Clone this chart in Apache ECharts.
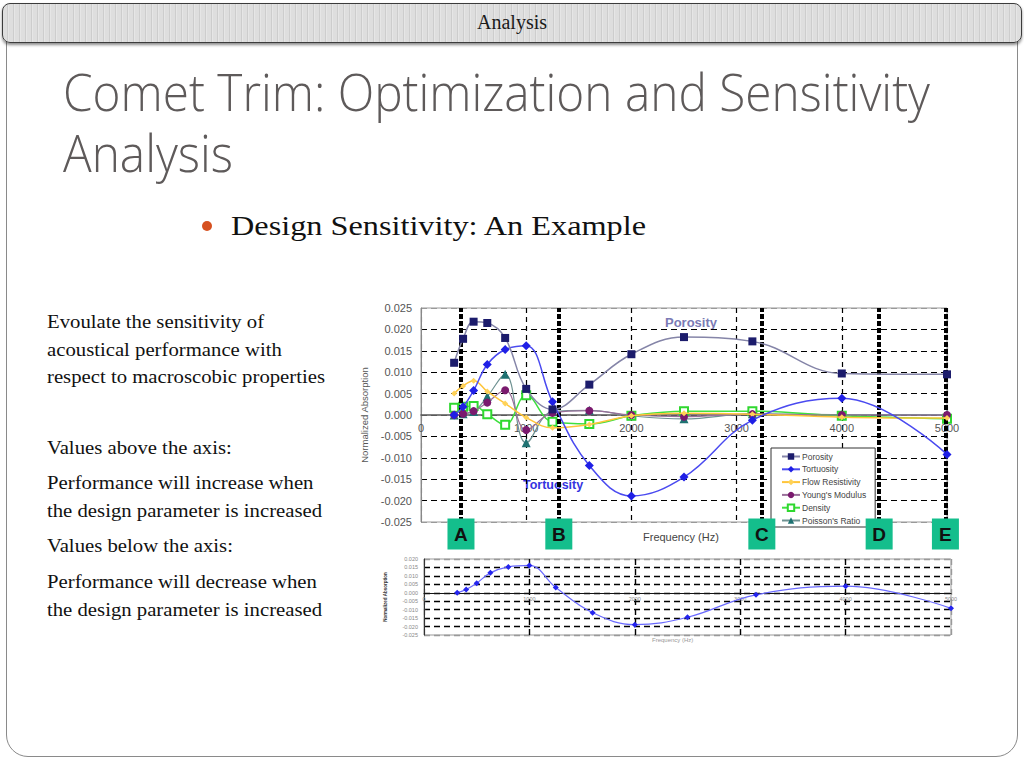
<!DOCTYPE html>
<html>
<head>
<meta charset="utf-8">
<script src="https://cdn.jsdelivr.net/npm/echarts/dist/echarts.min.js"></script>
<style>
html,body{margin:0;padding:0;width:1024px;height:768px;overflow:hidden;background:#fff;}
.abs{position:absolute;white-space:nowrap;}
.frame{position:absolute;left:6px;top:20px;width:1012px;height:737px;border:1px solid #8a8a8a;border-radius:22px;box-sizing:border-box;}
.banner{position:absolute;left:2px;top:3px;width:1020px;height:40px;border:1.5px solid #3c3c3c;border-radius:8px;box-sizing:border-box;
 background:repeating-linear-gradient(90deg,#dedede 0px,#dedede 4px,#cdcdcd 4px,#cdcdcd 5px,#e6e6e6 5px,#e6e6e6 6px);
 box-shadow:0 2px 3px rgba(0,0,0,0.45);}
.serif{font-family:"Liberation Serif","DejaVu Serif",serif;color:#111;line-height:1;}
.title{position:absolute;white-space:pre;font-family:"Open Sans","Lato",sans-serif;font-weight:300;color:#5e5a5a;font-size:52px;line-height:61px;transform-origin:0 0;}
#chart{position:absolute;left:0;top:0;width:1024px;height:768px;}
.dot{position:absolute;left:202px;top:221px;width:10px;height:10px;border-radius:50%;background:#d6501f;}
</style>
</head>
<body>
<div class="frame"></div>
<div class="banner"></div>
<div id="hdr" class="abs serif" style="top:12px;font-size:20px;color:#1a1a1a;">Analysis</div>
<div id="title" class="title" style="left:63px;top:59.5px;"></div>
<div class="dot"></div>
<div id="bul" class="abs serif" style="left:231px;top:212px;font-size:28px;">Design Sensitivity: An Example</div>
<div id="left"></div>
<div id="chart"></div>
<script>
// ---------------- data ----------------
const frequencies = [315, 400, 500, 630, 800, 1000, 1250, 1600, 2000, 2500, 3150, 4000, 5000];
const porosity        = [0.0122, 0.0178, 0.0218, 0.0215, 0.0180, 0.0061, 0.0013, 0.0071, 0.0142, 0.0182, 0.0172, 0.0097, 0.0095];
const tortuosity      = [0.0000, 0.0019, 0.0057, 0.0118, 0.0153, 0.0162, 0.0031, -0.0118, -0.0189, -0.0145, -0.0012, 0.0039, -0.0092];
const flowResistivity = [0.0050, 0.0068, 0.0080, 0.0055, 0.0027, -0.0006, -0.0030, -0.0022, -0.0002, 0.0004, 0.0002, -0.0005, -0.0007];
const youngsModulus   = [0.0000, 0.0003, 0.0009, 0.0029, 0.0058, -0.0035, 0.0005, 0.0010, 0.0000, -0.0004, 0.0002, 0.0000, 0.0000];
const density         = [0.0017, 0.0019, 0.0021, 0.0002, -0.0023, 0.0046, -0.0016, -0.0021, -0.0002, 0.0009, 0.0009, -0.0002, -0.0009];
const poissonsRatio   = [0.0000, 0.0003, 0.0008, 0.0043, 0.0095, -0.0065, 0.0008, 0.0011, -0.0002, -0.0009, 0.0003, 0.0001, 0.0001];
const seriesNames = ['Porosity', 'Tortuosity', 'Flow Resistivity', "Young's Modulus", 'Density', "Poisson's Ratio"];
const markerLabels = ['A', 'B', 'C', 'D', 'E'];
const markerFreqs  = [380, 1310, 3240, 4355, 4985];
const titleLines = ['Comet Trim: Optimization and Sensitivity', 'Analysis'];
const leftLines = [
  'Evoulate the sensitivity of',
  'acoustical performance with',
  'respect to macroscobic properties',
  'Values  above the axis:',
  'Performance will increase when',
  'the design parameter is increased',
  'Values below the axis:',
  'Performance will decrease when',
  'the design parameter is increased'
];
const leftBaselines = [328, 356, 383, 454, 489, 517, 552, 588, 616];

// ---------------- slide text layout ----------------
function widthOf(el){ return el.getBoundingClientRect().width; }
(function layoutSlide(){
  const hdr = document.getElementById('hdr');
  hdr.style.left = (512 - widthOf(hdr)/2) + 'px';
  const title = document.getElementById('title');
  title.textContent = titleLines.join('\n');
  const range = document.createRange();
  range.setStart(title.firstChild, 0);
  range.setEnd(title.firstChild, titleLines[0].length);
  title.style.transform = 'scaleX(' + (867 / range.getBoundingClientRect().width) + ')';
  const bul = document.getElementById('bul');
  bul.style.transform = 'scaleX(' + (415 / widthOf(bul)) + ')';
  bul.style.transformOrigin = '0 0';
  const host = document.getElementById('left');
  const els = leftLines.map((txt, i) => {
    const d = document.createElement('div');
    d.className = 'abs serif';
    d.style.fontSize = '19px';
    d.style.left = '47px';
    d.style.top = (leftBaselines[i] - 16) + 'px';
    d.style.transformOrigin = '0 0';
    d.textContent = txt;
    host.appendChild(d);
    return d;
  });
  const ls = 278 / widthOf(els[2]);
  els.forEach(d => d.style.transform = 'scaleX(' + ls + ')');
})();

// ---------------- chart ----------------
const pairs = arr => frequencies.map((f, i) => [f, arr[i]]);
const font = '"Liberation Sans", Arial, sans-serif';
const mainYColors = ['#999', '#000', '#000', '#000', '#000', '#666', '#000', '#000', '#000', '#000', '#999'];
const xColors = ['#999', '#000', '#000', '#000', '#000', '#999'];
const lowYColors = ['#999', '#000', '#000', '#000', '#000', '#000', '#000', '#000', '#000', '#999'];

const mainGrid = {left: 421, top: 308, width: 526, height: 214};
const lowGrid = {left: 424, top: 559, width: 527, height: 76};
const mainYRange = [-0.025, 0.025];
const lowYRange = [-0.025, 0.020];
// distance (px) from the bottom of a grid up to its zero line
const zeroLift = (g, r) => g.height * (0 - r[0]) / (r[1] - r[0]);

const chart = echarts.init(document.getElementById('chart'), null, {renderer: 'svg'});

const styles = [
  {symbol: 'rect', size: 8, color: '#1c1c6c', line: '#8585a8', w: 1.5},
  {symbol: 'diamond', size: 9, color: '#1f1fe6', line: '#4a4af0', w: 1.5},
  {symbol: 'diamond', size: 6, color: '#ffd257', line: '#ffc53a', w: 1.5},
  {symbol: 'circle', size: 8, color: '#7a1a6e', line: '#9a709a', w: 1.2},
  {symbol: 'emptyRect', size: 8, color: '#2fd82f', line: '#3ee03e', w: 1.5},
  {symbol: 'triangle', size: 9, color: '#1e7272', line: '#6f9292', w: 1.2}
];
const dataSets = [porosity, tortuosity, flowResistivity, youngsModulus, density, poissonsRatio];

const mainSeries = dataSets.map((arr, i) => {
  const st = styles[i];
  const s = {
    name: seriesNames[i], type: 'line', xAxisIndex: 0, yAxisIndex: 0,
    data: pairs(arr), smooth: 0.4, symbol: st.symbol, symbolSize: st.size,
    itemStyle: {color: st.color}, lineStyle: {color: st.line, width: st.w},
    z: 3 + (5 - i)
  };
  if (i === 0) {
    s.markLine = {
      silent: true, symbol: 'none', label: {show: false},
      lineStyle: {color: '#000', width: 4, type: [5, 2]},
      data: markerFreqs.map(f => ({xAxis: f}))
    };
    s.markPoint = {
      silent: true, symbol: 'rect', symbolSize: [27, 31], symbolOffset: [0, 12],
      itemStyle: {color: '#14be8c'},
      label: {show: true, formatter: p => p.name, color: '#111', fontSize: 19, fontWeight: 'bold', fontFamily: font},
      data: markerFreqs.map((f, k) => ({name: markerLabels[k], coord: [f, -0.025]}))
    };
  }
  return s;
});

const lowerSeries = {
  name: 'Tortuosity (detail)', type: 'line', xAxisIndex: 1, yAxisIndex: 1,
  data: pairs(tortuosity), smooth: 0.4, symbol: 'diamond', symbolSize: 6,
  itemStyle: {color: '#2424ee'}, lineStyle: {color: '#6a6aff', width: 1.2}
};

chart.setOption({
  animation: false,
  backgroundColor: 'transparent',
  grid: [
    Object.assign({show: true, borderColor: '#999', borderWidth: 1, backgroundColor: 'transparent'}, mainGrid),
    Object.assign({show: true, borderColor: '#999', borderWidth: 1, backgroundColor: 'transparent'}, lowGrid)
  ],
  legend: {
    data: seriesNames, orient: 'vertical', left: 771, top: 448,
    itemWidth: 18, itemHeight: 8, itemGap: 3.8,
    padding: [4, 9, 2, 10],
    backgroundColor: '#fff', borderColor: '#333', borderWidth: 1, borderRadius: 0,
    textStyle: {fontSize: 8.5, color: '#444', fontFamily: font, padding: [0, 0, 0, -3]},
    selectedMode: false
  },
  xAxis: [
    {type: 'value', gridIndex: 0, min: 0, max: 5000, interval: 1000,
     position: 'bottom', offset: -zeroLift(mainGrid, mainYRange),
     axisLine: {onZero: false, lineStyle: {color: '#555', width: 1.5}},
     axisTick: {show: false},
     axisLabel: {color: '#555', fontSize: 11, margin: 7, fontFamily: font, showMinLabel: true, showMaxLabel: true, formatter: v => String(v)},
     splitLine: {show: true, lineStyle: {type: [5, 4], width: 1.2, color: xColors}}},
    {type: 'value', gridIndex: 1, min: 0, max: 5000, interval: 1000,
     position: 'bottom', offset: -zeroLift(lowGrid, lowYRange),
     axisLine: {onZero: false, lineStyle: {color: '#111', width: 1.2}},
     axisTick: {show: false},
     axisLabel: {color: '#888', fontSize: 5.5, margin: 3, fontFamily: font, showMinLabel: true, showMaxLabel: true, formatter: v => String(v)},
     splitLine: {show: true, lineStyle: {type: [6, 4], width: 1.4, color: xColors}}}
  ],
  yAxis: [
    {type: 'value', gridIndex: 0, min: mainYRange[0], max: mainYRange[1], interval: 0.005,
     name: 'Normalized Absorption', nameLocation: 'middle', nameGap: 45,
     nameTextStyle: {fontSize: 9.5, color: '#555', fontFamily: font},
     axisLine: {show: true, onZero: false, lineStyle: {color: '#888', width: 1}},
     axisTick: {show: false},
     axisLabel: {color: '#555', fontSize: 11, margin: 9, fontFamily: font, formatter: v => v.toFixed(3)},
     splitLine: {show: true, lineStyle: {type: [6, 4], width: 1.2, color: mainYColors}}},
    {type: 'value', gridIndex: 1, min: lowYRange[0], max: lowYRange[1], interval: 0.005,
     name: 'Normalized Absorption', nameLocation: 'middle', nameGap: 36,
     nameTextStyle: {fontSize: 4.5, color: '#333', fontWeight: 'bold', fontFamily: font},
     axisLine: {show: true, onZero: false, lineStyle: {color: '#333', width: 1}},
     axisTick: {show: false},
     axisLabel: {color: '#888', fontSize: 5.5, margin: 6, fontFamily: font, formatter: v => v.toFixed(3)},
     splitLine: {show: true, lineStyle: {type: [6, 4], width: 1.4, color: lowYColors}}}
  ],
  graphic: [
    {type: 'text', left: 665, top: 316, style: {text: 'Porosity', fill: '#7b7bb5', font: 'bold 13px ' + font}},
    {type: 'text', left: 523, top: 478, style: {text: 'Tortuosity', fill: '#3434e0', font: 'bold 12.5px ' + font}},
    {type: 'text', left: 643, top: 531, style: {text: 'Frequency (Hz)', fill: '#444', font: '11px ' + font}},
    {type: 'text', left: 652, top: 637, style: {text: 'Frequency (Hz)', fill: '#999', font: '6px ' + font}}
  ],
  series: mainSeries.concat([lowerSeries])
});
</script>
</body>
</html>
